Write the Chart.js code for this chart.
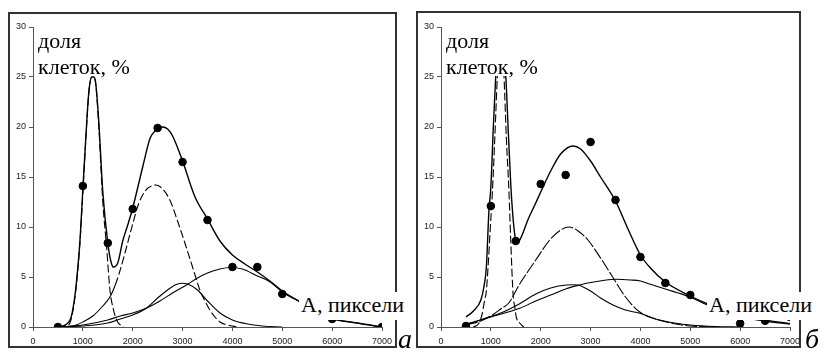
<!DOCTYPE html>
<html>
<head>
<meta charset="utf-8">
<script src="https://cdn.jsdelivr.net/npm/chart.js@4"></script>
<style>
    body { margin: 0; background: #fff; }
    #wrap { position: relative; width: 818px; height: 360px; background: #fff; overflow: hidden; }
    .frame { position: absolute; border: 2px solid #333; box-sizing: border-box; }
    .panel { position: absolute; top: 0; width: 409px; height: 360px; }
    .lbl {
        position: absolute;
        font-family: "Liberation Serif", "DejaVu Serif", serif;
        font-size: 22px;
        line-height: 26px;
        color: #000;
        background: #fff;
        white-space: nowrap;
        padding-left: 2px;
    }
    .mark {
        position: absolute;
        font-family: "Liberation Serif", "DejaVu Serif", serif;
        font-style: italic;
        font-size: 28px;
        line-height: 28px;
        color: #000;
    }
</style>
</head>
<body>
<div id="wrap">
    <div class="frame" style="left:8px;top:12px;width:389px;height:336px"></div>
    <div class="frame" style="left:416px;top:11px;width:385px;height:337px"></div>
    <div class="panel" style="left:0"><canvas id="chartA" width="409" height="360"></canvas></div>
    <div class="panel" style="left:408px"><canvas id="chartB" width="409" height="360"></canvas></div>
    <div class="lbl" style="left:36px;top:28px;height:48px;width:96px">доля<br>клеток, %</div>
    <div class="lbl" style="left:444px;top:28px;height:48px;width:96px">доля<br>клеток, %</div>
    <div class="lbl" style="left:299px;top:292px;height:28px;width:104px">А, пиксели</div>
    <div class="lbl" style="left:707px;top:292px;height:28px;width:106px">А, пиксели</div>
    <div class="mark" style="left:398px;top:325px">а</div>
    <div class="mark" style="left:805px;top:325px">б</div>
</div>
<script>
// Panel a: measured points
const dotsAX = [500, 1000, 1500, 2000, 2500, 3000, 3500, 4000, 4500, 5000, 6000, 7000];
const dotsAY = [0, 14.1, 8.4, 11.8, 19.9, 16.5, 10.7, 6.0, 6.0, 3.3, 0.8, 0];

// Panel a: fitted sum
const totalAX = [500, 600, 700, 760, 820, 870, 940, 1000, 1060, 1120, 1180, 1220, 1260, 1320, 1400, 1500, 1560, 1610, 1700, 1800, 1900, 2000, 2200, 2350, 2450, 2600, 2700, 2800, 3000, 3250, 3500, 3750, 4000, 4250, 4500, 4750, 5000, 5400, 5950, 6500, 7000];
const totalAY = [0, 0.1, 0.4, 0.9, 2.4, 4.4, 8.5, 13.8, 19, 23.5, 25, 25, 24.3, 20.5, 13.5, 8.4, 6.6, 6.0, 6.4, 8.6, 10.2, 11.9, 16.0, 18.9, 19.6, 20.0, 19.8, 19.1, 16.6, 13.0, 10.8, 8.6, 7.2, 6.3, 5.5, 4.6, 3.6, 2.4, 0.9, 0.4, 0];

// Panel a: components
const comp1AX = [500, 650, 740, 820, 870, 940, 1000, 1060, 1120, 1180, 1220, 1260, 1320, 1400, 1476, 1543, 1600, 1677, 1750, 1810];
const comp1AY = [0, 0.1, 0.4, 2.2, 4.2, 8.3, 13.4, 18.8, 23.5, 25, 25, 24.2, 20, 12.5, 8.0, 3.7, 2.0, 0.7, 0.2, 0];
const comp2AX = [500, 800, 1000, 1200, 1400, 1543, 1650, 1743, 1850, 2000, 2110, 2250, 2474, 2600, 2745, 2900, 3046, 3200, 3347, 3450, 3547, 3650, 3750, 3900, 4100];
const comp2AY = [0, 0.1, 0.5, 1.1, 2.1, 3.0, 4.2, 5.6, 7.5, 10.3, 12.2, 13.6, 14.2, 13.8, 12.7, 10.6, 8.4, 6.0, 3.7, 2.6, 1.7, 1.0, 0.5, 0.2, 0];
const comp3AX = [500, 1000, 1500, 1750, 2000, 2280, 2500, 2700, 2850, 2980, 3100, 3300, 3500, 3750, 4000, 4300, 4600, 5000];
const comp3AY = [0, 0.1, 0.4, 0.8, 1.2, 1.9, 2.9, 3.7, 4.2, 4.37, 4.3, 3.7, 2.6, 1.4, 0.7, 0.3, 0.1, 0];
const comp4AX = [500, 1000, 1500, 1750, 2000, 2280, 2545, 2800, 3080, 3300, 3500, 3750, 3950, 4200, 4500, 4760, 5000, 5400, 5950, 6500, 7000];
const comp4AY = [0, 0.2, 0.7, 1.1, 1.4, 1.9, 2.6, 3.4, 4.2, 4.9, 5.4, 5.8, 5.95, 5.8, 5.1, 4.5, 3.5, 2.4, 0.9, 0.4, 0];

// Panel б: measured points
const dotsBX = [500, 1000, 1500, 2000, 2500, 3000, 3500, 4000, 4500, 5000, 6000, 6500, 7000];
const dotsBY = [0.1, 12.1, 8.6, 14.3, 15.2, 18.5, 12.7, 7.0, 4.4, 3.2, 0.35, 0.62, 1.0];

// Panel б: fitted sum
const totalBX = [500, 650, 800, 860, 910, 960, 1000, 1050, 1100, 1150, 1200, 1250, 1300, 1350, 1400, 1450, 1490, 1530, 1600, 1750, 1900, 2000, 2200, 2400, 2650, 2800, 3000, 3200, 3500, 3750, 4000, 4200, 4500, 5000, 5400, 6000, 6500, 7000];
const totalBY = [1.0, 1.6, 2.7, 4.0, 6.0, 11.5, 14, 20, 25.3, 28.5, 29, 27.5, 25, 19.5, 14.2, 10.6, 8.9, 8.4, 8.9, 10.8, 12.4, 13.5, 15.6, 17.3, 18.1, 17.8, 16.6, 15.0, 12.6, 9.8, 7.2, 5.9, 4.5, 3.1, 2.2, 1.1, 0.6, 0.3];

// Panel б: components
const comp1BX = [650, 750, 820, 876, 910, 950, 990, 1030, 1080, 1130, 1170, 1200, 1230, 1264, 1310, 1364, 1400, 1444, 1478, 1510, 1578, 1660];
const comp1BY = [0, 0.3, 1.2, 2.7, 3.6, 6.5, 10, 13.4, 19, 25, 28, 28.5, 28, 25, 19, 13.4, 8.5, 3.4, 2.0, 1.0, 0.4, 0];
const comp2BX = [500, 800, 1000, 1200, 1358, 1578, 1750, 1900, 2180, 2400, 2573, 2750, 2948, 3200, 3443, 3700, 3986, 4300, 4600, 5000, 5500];
const comp2BY = [0.2, 0.6, 1.1, 1.8, 2.4, 4.3, 5.6, 6.7, 8.7, 9.7, 10.0, 9.6, 8.7, 6.9, 5.0, 3.0, 1.5, 0.8, 0.4, 0.1, 0];
const comp3BX = [500, 900, 1200, 1578, 1900, 2200, 2515, 2650, 2782, 3000, 3200, 3450, 3700, 3986, 4300, 4721, 5000, 5500, 6000];
const comp3BY = [0.2, 0.9, 1.4, 2.33, 3.3, 3.9, 4.2, 4.22, 4.15, 3.6, 2.9, 2.2, 1.7, 1.37, 0.8, 0.37, 0.2, 0.05, 0];
const comp4BX = [500, 900, 1000, 1578, 1900, 2200, 2500, 2782, 3000, 3250, 3518, 3800, 4000, 4187, 4500, 4990, 5250, 5500, 6000, 6500, 7000];
const comp4BY = [0.3, 0.85, 1.0, 1.87, 2.6, 3.2, 3.8, 4.2, 4.45, 4.65, 4.77, 4.7, 4.6, 4.3, 3.8, 3.0, 2.4, 1.9, 1.1, 0.7, 0.35];

// Axis ticks
const xTicks = [0, 1000, 2000, 3000, 4000, 5000, 6000, 7000];
const yTicks = [0, 5, 10, 15, 20, 25, 30];

function pts(xs, ys) {
    return xs.map((x, i) => ({ x: x, y: ys[i] }));
}

function curve(xs, ys, opts = {}) {
    return Object.assign({
        data: pts(xs, ys),
        showLine: true,
        pointRadius: 0,
        borderColor: '#000',
        borderWidth: 1.1,
        cubicInterpolationMode: 'monotone',
        fill: false
    }, opts);
}

function makePanel(canvasId, dotsX, dotsY, curves) {
    const datasets = [{
        data: pts(dotsX, dotsY),
        pointRadius: 3.8,
        pointBackgroundColor: '#000',
        pointBorderColor: '#000',
        showLine: false
    }].concat(curves);

    return new Chart(document.getElementById(canvasId), {
        type: 'scatter',
        data: { datasets: datasets },
        options: {
            responsive: false,
            animation: false,
            layout: { padding: { top: 27, right: 27, left: 0, bottom: 0 } },
            plugins: { legend: { display: false }, tooltip: { enabled: false } },
            scales: {
                x: {
                    type: 'linear',
                    min: xTicks[0],
                    max: xTicks[xTicks.length - 1],
                    afterBuildTicks: s => { s.ticks = xTicks.map(v => ({ value: v })); },
                    afterFit: s => { s.height = 33; },
                    ticks: { padding: 5, color: '#222', font: { size: 9 }, maxRotation: 0, callback: v => String(v) },
                    grid: { drawOnChartArea: false, drawTicks: true, tickLength: 4, color: '#555' },
                    border: { color: '#555', width: 1 }
                },
                y: {
                    min: yTicks[0],
                    max: yTicks[yTicks.length - 1],
                    afterBuildTicks: s => { s.ticks = yTicks.map(v => ({ value: v })); },
                    afterFit: s => { s.width = 33; },
                    ticks: { padding: 3, color: '#222', font: { size: 9 }, callback: v => String(v) },
                    grid: { drawOnChartArea: false, drawTicks: true, tickLength: 4, color: '#555' },
                    border: { color: '#555', width: 1 }
                }
            }
        }
    });
}

Chart.defaults.font.family = '"Liberation Sans", Arial, sans-serif';

makePanel('chartA', dotsAX, dotsAY, [
    curve(totalAX, totalAY, { borderWidth: 1.4 }),
    curve(comp1AX, comp1AY, { borderDash: [8, 3] }),
    curve(comp2AX, comp2AY, {
        // lower left tail of this component is drawn solid in the source
        segment: { borderDash: ctx => ctx.p0.parsed.x < 1550 ? [] : [8, 3] }
    }),
    curve(comp3AX, comp3AY),
    curve(comp4AX, comp4AY)
]);

makePanel('chartB', dotsBX, dotsBY, [
    curve(totalBX, totalBY, { borderWidth: 1.4 }),
    curve(comp1BX, comp1BY, { borderDash: [8, 3] }),
    curve(comp2BX, comp2BY, { borderDash: [12, 2] }),
    curve(comp3BX, comp3BY),
    curve(comp4BX, comp4BY)
]);
</script>
</body>
</html>
